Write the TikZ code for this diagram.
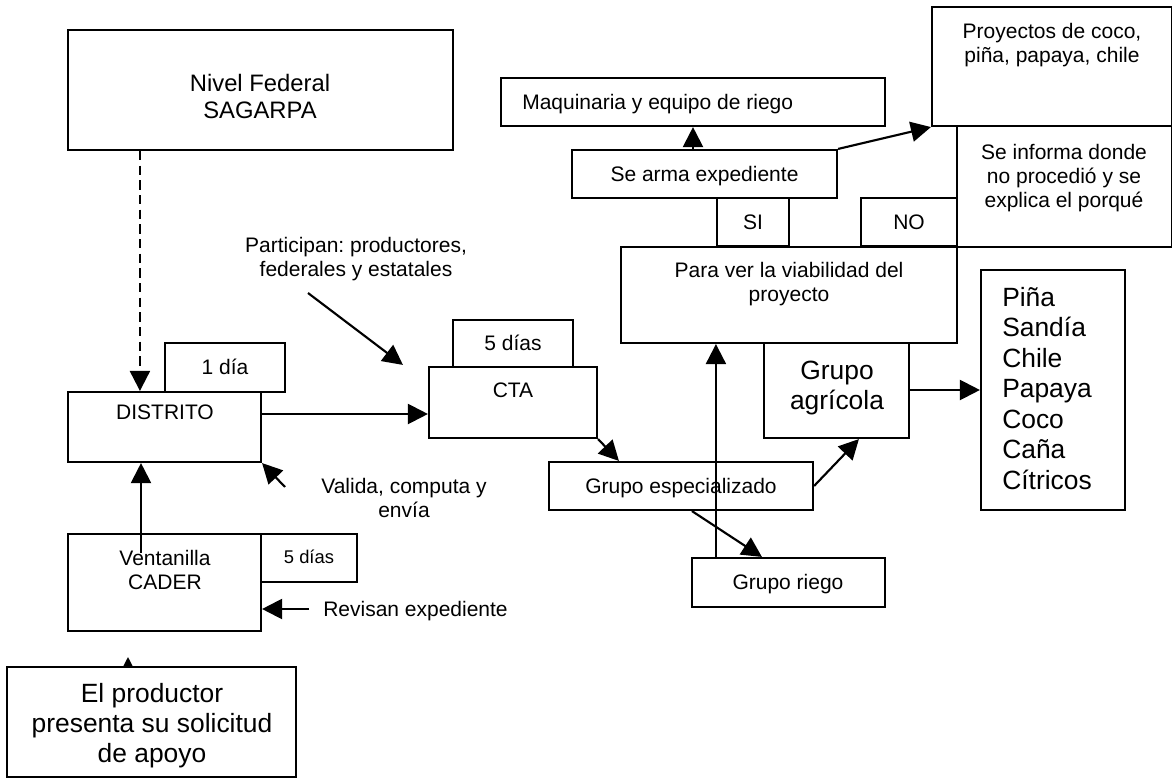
\documentclass[tikz,border=0pt]{standalone}
\usepackage{fontspec}
\setmainfont{Liberation Sans}
\usetikzlibrary{arrows.meta,fit}
\frenchspacing
\newcommand\fsA{\fontsize{15.75pt}{18pt}\selectfont}
\newcommand\fsB{\fontsize{19.8pt}{22.5pt}\selectfont}
\newcommand\fsL{\fontsize{19.8pt}{22.9pt}\selectfont}
\newcommand\fsF{\fontsize{17.85pt}{20.25pt}\selectfont}
\newcommand\fsS{\fontsize{13.8pt}{16pt}\selectfont}
\begin{document}
\begin{tikzpicture}[x=0.75pt,y=-0.75pt,
  box/.style={draw,line width=1.6pt,fill=white,inner sep=0pt},
  txt/.style={inner sep=0pt,align=center,font=\fsA},
  arr/.style={line width=1.6pt,-{Triangle[length=15pt,width=15pt]}},
  dashedarr/.style={arr,dash pattern=on 7pt off 4pt}]
\useasboundingbox (0,0) rectangle (1172,778);
\fill[white] (0,0) rectangle (1172,778);

% hidden connector from producer to window (only tip visible)
\coordinate (prodIn) at (128,690);
\coordinate (prodTip) at (128,657);
\draw[arr] (prodIn) -- (prodTip);

% boxes
\node[box,fit={(68,30)(453,150)}] (fed) {};
\node[box,fit={(165,343)(285,392)}] (dia1) {};
\node[box,fit={(68,392)(261,462)}] (dist) {};
\node[box,fit={(68,534)(261,631)}] (vent) {};
\node[box,fit={(261,534)(357,582)}] (dias5a) {};
\node[box,fit={(7,667)(296,777)}] (prod) {};
\node[box,fit={(453,320)(573,367)}] (dias5b) {};
\node[box,fit={(429,367)(597,438)}] (cta) {};
\node[box,fit={(549,462)(813,510)}] (esp) {};
\node[box,fit={(692,558)(885,607)}] (riego) {};
\node[box,fit={(621,247)(957,343)}] (para) {};
\node[box,fit={(764,343)(909,438)}] (agri) {};
\node[box,fit={(981,270)(1125,510)}] (list) {};
\node[box,fit={(501,78)(885,126)}] (maq) {};
\node[box,fit={(572,150)(837,198)}] (searma) {};
\node[box,fit={(717,198)(789,246)}] (si) {};
\node[box,fit={(861,198)(957,246)}] (no) {};
\node[box,fit={(932,7)(1172,126)}] (proy) {};
\node[box,fit={(957,126)(1172,247)}] (informa) {};

% box texts (anchor base = baseline of last line)
\node[txt,font=\fsF,anchor=base] (fedT) at (260,118.5) {Nivel Federal\\SAGARPA};
\node[txt,anchor=base] (distT) at (165,419) {DISTRITO};
\node[txt,anchor=base] (dia1T) at (225,374.5) {1 día};
\node[txt,anchor=base] (ventT) at (165,589.5) {Ventanilla\\CADER};
\node[txt,font=\fsS,anchor=base] (dias5aT) at (309,563) {5 días};
\node[txt,font=\fsB,anchor=base] (prodT) at (152,762.5) {El productor\\presenta su solicitud\\de apoyo};
\node[txt,anchor=base] (ctaT) at (513,397.5) {CTA};
\node[txt,anchor=base] (dias5bT) at (513,350.5) {5 días};
\node[txt,anchor=base] (espT) at (681,493.5) {Grupo especializado};
\node[txt,anchor=base] (riegoT) at (788,589.5) {Grupo riego};
\node[txt,anchor=base] (paraT) at (789,301.5) {Para ver la viabilidad del\\proyecto};
\node[txt,font=\fsB,anchor=base] (agriT) at (837,409.5) {Grupo\\agrícola};
\node[txt,font=\fsL,align=left,anchor=base west] (listT) at (1002,489.5) {Piña\\Sandía\\Chile\\Papaya\\Coco\\Caña\\Cítricos};
\node[txt,anchor=base west] (maqT) at (522,109.5) {Maquinaria y equipo de riego};
\node[txt,anchor=base] (searmaT) at (704.5,181.5) {Se arma expediente};
\node[txt,anchor=base] (siT) at (753,229.5) {SI};
\node[txt,anchor=base] (noT) at (909,229.5) {NO};
\node[txt,anchor=base] (proyT) at (1052,62.5) {Proyectos de coco,\\piña, papaya, chile};
\node[txt,anchor=base] (informaT) at (1064,207.5) {Se informa donde\\no procedió y se\\explica el porqué};

% free texts
\node[txt,anchor=base] (partT) at (356,276.5) {Participan: productores,\\federales y estatales};
\node[txt,anchor=base] (valT) at (404,517.5) {Valida, computa y\\envía};
\node[txt,anchor=base west] (revT) at (323,616.5) {Revisan expediente};

% free ends
\coordinate (ventIn) at (141,553);
\coordinate (partS) at (308,293);
\coordinate (valS) at (285,487);
\coordinate (revS) at (309,609);

% connectors
\draw[dashedarr] ([shift={(73,0)}]fed.south west) -- ([shift={(73,0)}]dist.north west);
\draw[arr] (ventIn) -- (ventIn |- dist.south);
\draw[arr] ([shift={(0,-13)}]dist.east) -- ([shift={(0,11.5)}]cta.west);
\draw[arr] (partS) -- ([shift={(-25,-1)}]cta.north west);
\draw[arr] (valS) -- (dist.south east);
\draw[arr] (revS) -- ([shift={(0,26.5)}]vent.east);
\draw[arr] (cta.south east) -- ([shift={(71,0)}]esp.north west);
\draw[arr] ([shift={(144,0)}]esp.south west) -- ([shift={(71,0)}]riego.north west);
\draw[arr] ([shift={(25,0)}]riego.north west) -- ([shift={(96,0)}]para.south west);
\draw[arr] (esp.east) -- ([shift={(96,0)}]agri.south west);
\draw[arr] ([shift={(0,-0.5)}]agri.east) -- ([shift={(0,-0.5)}]agri.east -| list.west);
\draw[arr] (searma.north -| maq.south) -- (maq.south);
\draw[arr] (searma.north east) -- (proy.south west);
\end{tikzpicture}
\end{document}
